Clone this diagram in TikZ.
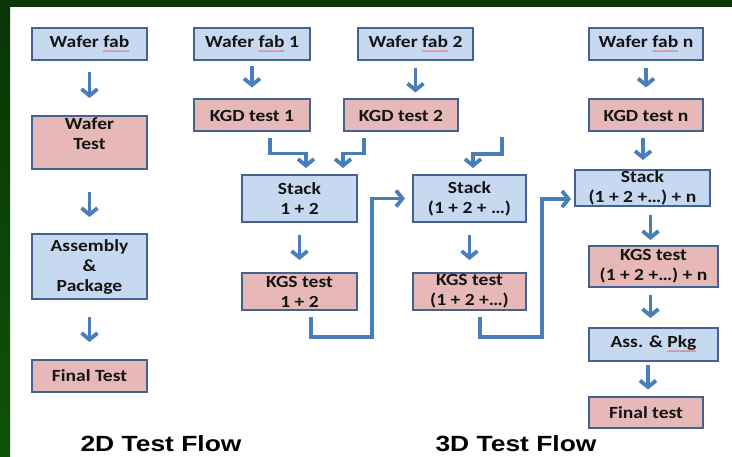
\documentclass[tikz,border=0pt]{standalone}
\usepackage{fontspec}
\usetikzlibrary{arrows.meta,calc}
\setmainfont{Carlito}[FakeStretch=1.15]
\newfontfamily\titlefont{Liberation Sans}[FakeStretch=1.2]

\definecolor{boxblue}{HTML}{C6D9F1}
\definecolor{boxpink}{HTML}{E6B9B8}
\definecolor{boxline}{HTML}{44628F}
\definecolor{arrowblue}{HTML}{4A7EBB}
\definecolor{frametop}{HTML}{0A3505}
\definecolor{framebot}{HTML}{0F5209}
\definecolor{textdark}{HTML}{141414}

% red wavy spell-check underline, made of small tildes
\newcommand\spellwave[1]{\setbox0=\hbox{#1}\rlap{\copy0}\hbox to \wd0{\color{red}\mdseries\fontsize{7}{7}\selectfont
  \xleaders\hbox{\kern-0.25pt\raisebox{-6pt}{\textasciitilde}\kern-0.25pt}\hfil}}

\tikzset{
  box/.style={draw=boxline, line width=2pt, inner sep=0pt, align=center,
    text=textdark, font=\fontsize{17}{20}\selectfont\bfseries},
  bluebox/.style={box, fill=boxblue},
  pinkbox/.style={box, fill=boxpink},
  boxtext/.style={inner sep=0pt, align=center, text=textdark,
    font=\fontsize{17}{20}\selectfont\bfseries},
  flowtitle/.style={inner sep=0pt, text=black,
    font=\titlefont\bfseries\fontsize{22}{26}\selectfont},
  arr/.style={draw=arrowblue, line width=3.8pt,
    -{Straight Barb[length=6.5pt,width=16pt]}},
}

\begin{document}
\begin{tikzpicture}[x=1pt,y=-1pt]
  % page and frame
  \fill[white] (0,0) rectangle (732,457);
  \useasboundingbox (0,0) rectangle (732,457);
  \fill[frametop] (0,0) rectangle (732,7);
  \shade[top color=frametop, bottom color=framebot] (0,0) rectangle (10,457);

  % ---- 2D flow ----
  \node[bluebox, minimum width=115, minimum height=32] (wf) at (89.5,44.5) {Wafer \spellwave{fab}};
  \node[pinkbox, minimum width=115, minimum height=53] (wt) at (89.5,142.5) {};
  \node[boxtext] (wtl) at (89.5,134) {Wafer\\Test};
  \node[bluebox, minimum width=115, minimum height=65] (asm) at (89.5,266.5) {Assembly\\\&\\Package};
  \node[pinkbox, minimum width=115, minimum height=32] (ft2) at (89.5,376) {Final Test};

  \draw[arr, shorten <=11pt, shorten >=17pt] (wf) -- (wt);
  \draw[arr, shorten <=22pt, shorten >=16pt] (wt) -- (asm);
  \draw[arr, shorten <=17pt, shorten >=17pt] (asm) -- (ft2);

  % ---- 3D flow ----
  \node[bluebox, minimum width=116, minimum height=32] (wf1) at (252,44.5) {Wafer \spellwave{fab} 1};
  \node[pinkbox, minimum width=116, minimum height=32] (kgd1) at (252,115.5) {KGD test 1};
  \node[bluebox, minimum width=115, minimum height=32] (wf2) at (415.5,44.5) {Wafer \spellwave{fab} 2};
  \node[pinkbox, minimum width=114, minimum height=32] (kgd2) at (401,115.5) {KGD test 2};
  \node[bluebox, minimum width=115, minimum height=47] (st12) at (299.5,198.5) {Stack\\1 + 2};
  \node[pinkbox, minimum width=115, minimum height=37] (kgs12) at (299.5,291.5) {KGS test\\1 + 2};
  \node[bluebox, minimum width=113, minimum height=47] (stm) at (469.5,198.5) {Stack\\(1 + 2 + …)};
  \node[pinkbox, minimum width=113, minimum height=37] (kgsm) at (469.5,291.5) {KGS test\\(1 + 2 +…)};
  \node[bluebox, minimum width=114, minimum height=32] (wfn) at (646,44.5) {Wafer \spellwave{fab} n};
  \node[pinkbox, minimum width=114, minimum height=32] (kgdn) at (646,115.5) {KGD test n};
  \node[bluebox, minimum width=135, minimum height=36] (stn) at (642.5,188) {Stack\\(1 + 2 +…) + n};
  \node[pinkbox, minimum width=129, minimum height=41] (kgsn) at (653.5,266.5) {KGS test\\(1 + 2 +…) + n};
  \node[bluebox, minimum width=129, minimum height=33] (asp) at (653.5,344.5) {Ass. \& \spellwave{Pkg}};
  \node[pinkbox, minimum width=114, minimum height=31] (ftn) at (646,413) {Final test};

  % vertical steps
  \draw[arr, shorten <=5pt, shorten >=11pt] (wf1) -- (kgd1);
  \draw[arr, shorten <=7pt, shorten >=6pt] (wf2.south) -- (wf2.south |- kgd2.north);
  \draw[arr, shorten <=12pt, shorten >=12pt] (st12) -- (kgs12);
  \draw[arr, shorten <=12pt, shorten >=12pt] (stm) -- (kgsm);
  \draw[arr, shorten <=7pt, shorten >=11pt] (wfn) -- (kgdn);
  \draw[arr, shorten <=6pt, shorten >=9pt] ([xshift=-3pt]kgdn.south) -- ([xshift=-3pt]kgdn.south |- stn.north);
  \draw[arr, shorten <=8pt, shorten >=5pt] ([xshift=-3pt]kgsn.north |- stn.south) -- ([xshift=-3pt]kgsn.north);
  \draw[arr, shorten <=7pt, shorten >=9pt] ([xshift=-3pt]kgsn.south) -- ([xshift=-3pt]asp.north);
  \draw[arr, shorten <=3pt, shorten >=7pt] ([xshift=2pt]ftn.north |- asp.south) -- ([xshift=2pt]ftn.north);

  % merging elbows into the stacks
  \draw[arr] ($(kgd1.south)+(18,6)$) -- ++(0,15) -| ($(st12.north)+(6.5,-6)$);
  \draw[arr] ($(kgd2.south)+(-37,6)$) -- ++(0,15) -| ($(st12.north)+(43.5,-6)$);
  \coordinate (feed3) at ($(stm.north)+(32.5,-37)$);
  \draw[arr] (feed3) -- ++(0,17) -| ($(stm.north)+(3.5,-6)$);
  \draw[arr] ($(kgs12.south)+(11.5,6)$) -- ++(0,20) -- ++(61,0) |- ($(stm.west)+(-7,0)$);
  \draw[arr] ($(kgsm.south)+(10.5,6)$) -- ++(0,20) -- ++(62,0) |- ($(stn.west)+(-3,11)$);

  % titles
  \node[flowtitle, anchor=base] (t2d) at (161,452) {2D Test Flow};
  \node[flowtitle, anchor=base] (t3d) at (516,452) {3D Test Flow};
\end{tikzpicture}
\end{document}
